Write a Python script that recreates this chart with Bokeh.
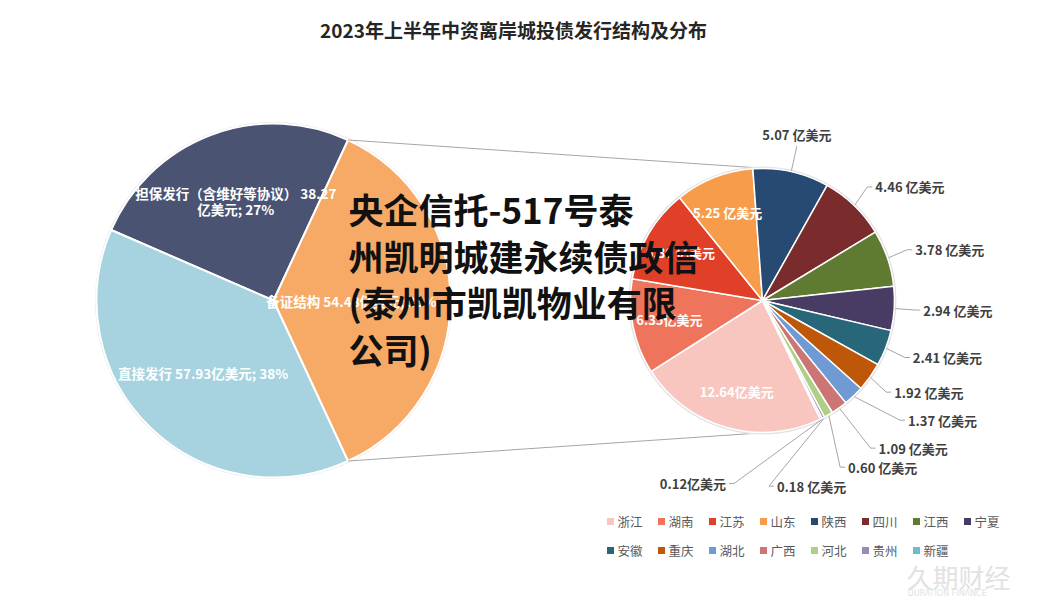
import math
from bokeh.plotting import figure
from bokeh.models import Range1d, ColumnDataSource
from bokeh.core.properties import value
from bokeh.embed import file_html
from bokeh.resources import INLINE

# ---------------- data ----------------
title_text = "2023年上半年中资离岸城投债发行结构及分布"

structure_names = ["担保发行（含维好等协议）", "直接发行", "备证结构"]
structure_values = [38.27, 57.93, 54.48]
structure_pcts = ["27%", "38%", "35%"]
structure_colors = ["#4A5472", "#A6D3DF", "#F7A966"]

region_names = ["浙江", "湖南", "江苏", "山东", "陕西", "四川", "江西", "宁夏",
                "安徽", "重庆", "湖北", "广西", "河北", "贵州", "新疆"]
region_values = [12.64, 6.35, 6.30, 5.25, 5.07, 4.46, 3.78, 2.94,
                 2.41, 1.92, 1.37, 1.09, 0.60, 0.18, 0.12]
region_label_space = [False, False, True, True, True, True, True, True,
                      True, True, True, True, True, True, False]
region_colors = ["#F9C6BF", "#EE745B", "#DF4027", "#F69C4A", "#274A72", "#7A2B2C",
                 "#5F7A31", "#483B64", "#28667A", "#BF5708", "#6F9AD3", "#CD7575",
                 "#AFCF88", "#988CB3", "#6DBBCC"]

overlay_lines = ["央企信托-517号泰", "州凯明城建永续债政信", "(泰州市凯凯物业有限", "公司)"]

# ---------------- layout ----------------
FONT = value("Noto Sans CJK SC")
W, H = 1028, 600
CX1, CY1, R1 = 273, 300, 177      # main pie (image px)
CX2, CY2, R2 = 762, 300, 132      # secondary pie
FIRST_SLICE_ANGLE = 154           # secondary pie rotation (deg, clockwise from top)
INSIDE_COUNT = 4
structure_label_rho = [0.60, 0.57, 0.44]
R_NAT, R_PUSH = 158, 186


def Y(py):
    return 616 - py


def pt(cx, cy, r, th):
    t = math.radians(th)
    return cx + r * math.sin(t), cy - r * math.cos(t)


p = figure(width=W, height=H, x_range=Range1d(0, W), y_range=Range1d(16, 16 + H),
           output_backend="svg", toolbar_location=None, min_border=0,
           x_axis_location=None, y_axis_location=None)
p.grid.visible = False
p.outline_line_color = None
p.background_fill_color = "white"
p.border_fill_color = "white"

# ---------------- title ----------------
p.text(x=[513], y=[Y(29)], text=[title_text], text_align="center", text_baseline="middle",
       text_font=FONT, text_font_size=value("19px"), text_font_style="bold", text_color="#262626")

# ---------------- main pie ----------------
tot1 = sum(structure_values)
spans1 = [v / tot1 * 360 for v in structure_values]
other = 2
a = 90 - spans1[other] / 2
t1 = [0.0] * 3
t2 = [0.0] * 3
for i in [2, 1, 0]:
    t1[i] = a
    t2[i] = a + spans1[i]
    a += spans1[i]

src1 = ColumnDataSource(dict(
    start=[math.radians(90 - t2[i]) for i in range(3)],
    end=[math.radians(90 - t1[i]) for i in range(3)],
    color=structure_colors))
p.circle(x=CX1, y=Y(CY1), radius=R1 + 1.5, fill_color="#e4e4e4", line_color=None)
p.wedge(x=CX1, y=Y(CY1), radius=R1, start_angle="start", end_angle="end",
        fill_color="color", line_color="white", line_width=2, source=src1)

lx, ly, lt = [], [], []
for i in range(3):
    mid = (t1[i] + t2[i]) / 2
    x, y = pt(CX1, CY1, R1 * structure_label_rho[i], mid)
    if i == 0:
        lines = [f"{structure_names[i]} {structure_values[i]:.2f}", f"亿美元; {structure_pcts[i]}"]
    else:
        lines = [f"{structure_names[i]} {structure_values[i]:.2f}亿美元; {structure_pcts[i]}"]
    n = len(lines)
    for k, s in enumerate(lines):
        lx.append(x)
        ly.append(Y(y + (k - (n - 1) / 2) * 16))
        lt.append(s)
p.text(x=lx, y=ly, text=lt, text_align="center", text_baseline="middle", text_font=FONT,
       text_font_size=value("13.5px"), text_font_style="bold", text_color="white")

# ---------------- connector lines (tangents) ----------------
def tangent(px, py, upper):
    dx, dy = CX2 - px, CY2 - py
    d = math.hypot(dx, dy)
    base = math.atan2(dy, dx)
    al = math.asin(R2 / d)
    ang = base - al if upper else base + al
    L = math.sqrt(d * d - R2 * R2)
    return px + L * math.cos(ang), py + L * math.sin(ang)

ptop = pt(CX1, CY1, R1, t1[other])
pbot = pt(CX1, CY1, R1, t2[other])
etop = tangent(*ptop, True)
ebot = tangent(*pbot, False)
p.multi_line(xs=[[ptop[0], etop[0]], [pbot[0], ebot[0]]],
             ys=[[Y(ptop[1]), Y(etop[1])], [Y(pbot[1]), Y(ebot[1])]],
             line_color="#a6a6a6", line_width=1)

# ---------------- secondary pie ----------------
tot2 = sum(region_values)
spans2 = [v / tot2 * 360 for v in region_values]
s1, s2 = [], []
a = FIRST_SLICE_ANGLE
for sp in spans2:
    s1.append(a)
    s2.append(a + sp)
    a += sp
mid2 = [((s1[i] + s2[i]) / 2) % 360 for i in range(len(spans2))]

src2 = ColumnDataSource(dict(
    start=[math.radians(90 - v) for v in s2],
    end=[math.radians(90 - v) for v in s1],
    color=region_colors))
p.circle(x=CX2, y=Y(CY2), radius=R2 + 2, fill_color="#e2e2e2", line_color=None)
p.wedge(x=CX2, y=Y(CY2), radius=R2, start_angle="start", end_angle="end",
        fill_color="color", line_color="white", line_width=1.5, source=src2)

labels2 = [f"{v:.2f}{' ' if sp else ''}亿美元" for v, sp in zip(region_values, region_label_space)]

ix, iy, it = [], [], []
for i in range(INSIDE_COUNT):
    x, y = pt(CX2, CY2, R2 * 0.72, mid2[i])
    ix.append(x); iy.append(Y(y)); it.append(labels2[i])
p.text(x=ix, y=iy, text=it, text_align="center", text_baseline="middle", text_font=FONT,
       text_font_size=value("13px"), text_font_style="bold", text_color="white")

# outside labels: spread downward on the right, fall back to the left when out of room
outer = list(range(INSIDE_COUNT, len(region_values)))
placed = []   # (i, ax, ay, align)
prev = None
for i in outer:
    th = mid2[i]
    nx, ny = pt(CX2, CY2, R_NAT, th)
    if th < 25 or th > 335:
        placed.append((i, nx, ny, "center"))
        prev = (nx, ny, th)
        continue
    if prev is None or ny >= prev[1] + 28:
        placed.append((i, nx, ny, "left"))
        prev = (nx, ny, th)
        continue
    done = False
    for gap in (28, 19):
        y = max(ny, prev[1] + gap)
        dy = y - CY2
        if dy > R_PUSH:
            continue
        x = CX2 + math.sqrt(R_PUSH ** 2 - dy ** 2)
        if prev[0] - x <= 30 or gap == 19:
            placed.append((i, x, y, "left"))
            prev = (x, y, math.degrees(math.atan2(x - CX2, CY2 - y)) % 360)
            done = True
            break
    if not done:
        pth = prev[2]
        sn = abs(math.sin(math.radians(pth)))
        cs = abs(math.cos(math.radians(pth)))
        dh = math.degrees(18 / (R_PUSH * max(sn, 1e-6)))
        dw = math.degrees(45 / (R_PUSH * max(cs, 1e-6)))
        th2 = pth + min(dh, dw)
        x, y = pt(CX2, CY2, R_PUSH, th2)
        placed.append((i, x, y, "right" if th2 % 360 > 180 else "left"))
        prev = (x, y, th2)

groups = {"left": ([], [], []), "right": ([], [], []), "center": ([], [], [])}
lxs, lys = [], []
for i, ax, ay, g in placed:
    ex, ey = pt(CX2, CY2, R2 + 1, mid2[i])
    if g == "center":
        groups[g][0].append(ax); groups[g][1].append(Y(ay - 2)); groups[g][2].append(labels2[i])
        lxs.append([ex, ax]); lys.append([Y(ey), Y(ay)])
    elif g == "left":
        groups[g][0].append(ax + 3); groups[g][1].append(Y(ay)); groups[g][2].append(labels2[i])
        lxs.append([ex, ax - 5, ax]); lys.append([Y(ey), Y(ay), Y(ay)])
    else:
        groups[g][0].append(ax - 3); groups[g][1].append(Y(ay)); groups[g][2].append(labels2[i])
        lxs.append([ex, ax + 5, ax]); lys.append([Y(ey), Y(ay), Y(ay)])

p.multi_line(xs=lxs, ys=lys, line_color="#a6a6a6", line_width=1)
for g, (gx, gy, gt) in groups.items():
    if not gx:
        continue
    p.text(x=gx, y=gy, text=gt, text_align=g, text_baseline="bottom" if g == "center" else "middle",
           text_font=FONT, text_font_size=value("13px"), text_font_style="bold", text_color="#404040")

# ---------------- legend ----------------
cols = 8
mx, my = [], []
for k, name in enumerate(region_names):
    row, col = divmod(k, cols)
    mx.append(610 + col * 51)
    my.append(Y(521 + row * 29))
p.scatter(x=mx, y=my, marker="square", size=7, fill_color=region_colors, line_color=None)
p.text(x=[x + 7 for x in mx], y=my, text=region_names, text_align="left", text_baseline="middle",
       text_font=FONT, text_font_size=value("12.5px"), text_color="#595959")

# ---------------- watermark logo text ----------------
p.text(x=[906], y=[Y(576)], text=["久期财经"], text_align="left", text_baseline="middle",
       text_font=FONT, text_font_size=value("26px"), text_color="#e2e2e2")
p.text(x=[907], y=[Y(593)], text=["DURATION FINANCE"], text_align="left", text_baseline="middle",
       text_font=value("DejaVu Sans"), text_font_size=value("8px"), text_color="#e2e2e2")

# ---------------- overlay text ----------------
p.text(x=[348] * len(overlay_lines), y=[Y(208 + 46.5 * k) for k in range(len(overlay_lines))],
       text=overlay_lines, text_align="left", text_baseline="middle", text_font=FONT,
       text_font_size=value("35px"), text_font_style="bold", text_color="#111111")

open("out.html", "w").write(file_html(p, INLINE))
